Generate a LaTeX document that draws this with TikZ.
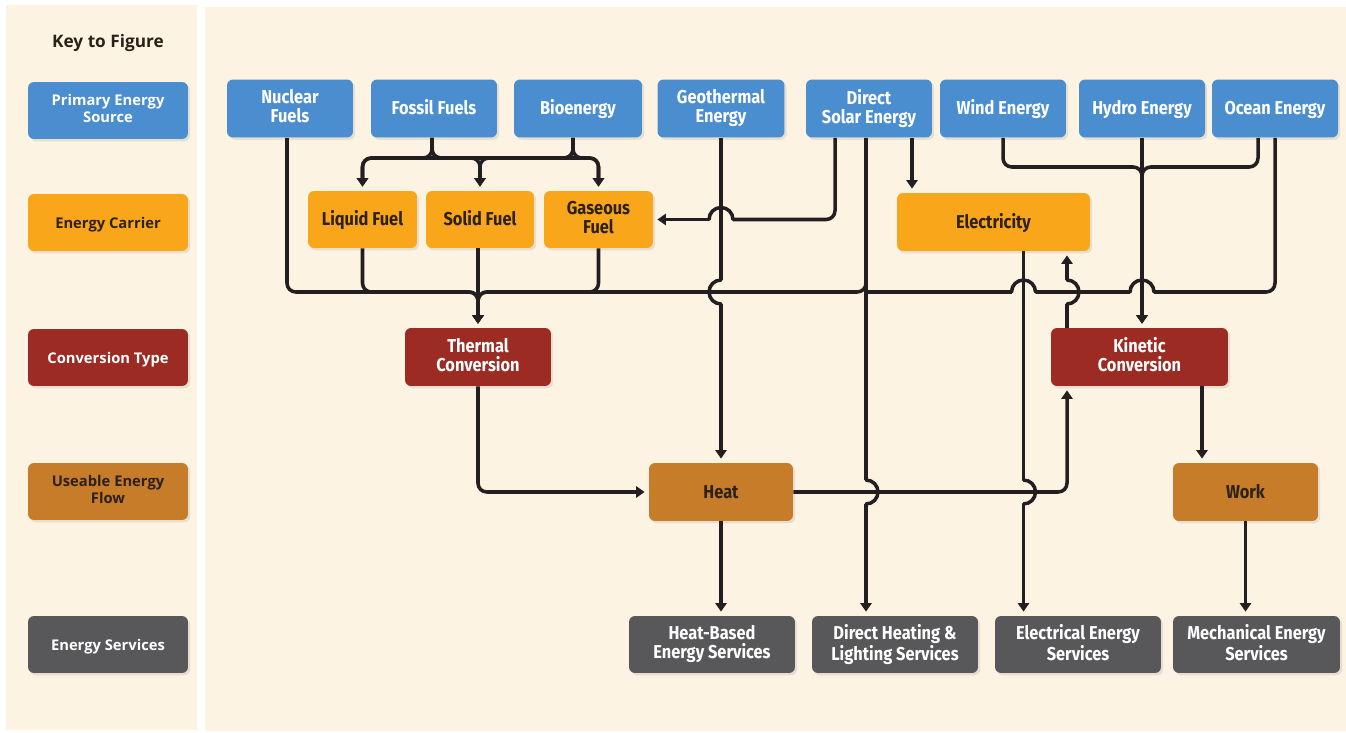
\documentclass[tikz,border=0pt]{standalone}
\usepackage{fontspec}
\setmainfont{Fira Sans}
\newfontfamily\condf[FakeStretch=0.88]{Fira Sans}
\newfontfamily\keyf{Open Sans}
\usetikzlibrary{calc,arrows.meta,shadows}
\definecolor{bg}{HTML}{FDF3E3}
\definecolor{cblue}{HTML}{4A8ECF}
\definecolor{corange}{HTML}{FAA61A}
\definecolor{cred}{HTML}{9C2B23}
\definecolor{cbrown}{HTML}{C77C2A}
\definecolor{cgray}{HTML}{58585A}
\definecolor{ink}{HTML}{231F20}
\definecolor{dtext}{HTML}{2B2118}
\newcommand\topstrut{\rule{0pt}{9.8pt}}
\newcommand\botstrut{\rule[-2.5pt]{0pt}{2.5pt}}
\newcommand\ktopstrut{\rule{0pt}{8.6pt}}
\newcommand\kbotstrut{\rule[-2.5pt]{0pt}{2.5pt}}
\tikzset{
  box/.style={rectangle, rounded corners=3.4pt, inner sep=0pt, align=center,
    font=\condf\bfseries\fontsize{10.6}{10.9}\selectfont,
    execute at begin node=\topstrut, execute at end node=\botstrut,
    drop shadow={opacity=0.18, shadow xshift=1.2pt, shadow yshift=-1.3pt}},
  bw/.style={minimum width=#1},
  srcbox/.style={box, fill=cblue, text=white, minimum height=1.16cm},
  carbox/.style={box, fill=corange, text=dtext, minimum height=1.14cm},
  convbox/.style={box, fill=cred, text=white, minimum height=1.16cm},
  usebox/.style={box, fill=cbrown, text=dtext, minimum height=1.16cm},
  servbox/.style={box, fill=cgray, text=white, minimum height=1.14cm},
  keyb/.style={box, minimum width=3.2cm, minimum height=1.14cm,
    font=\keyf\bfseries\fontsize{8.4}{9.6}\selectfont,
    execute at begin node=\ktopstrut, execute at end node=\kbotstrut},
  flow/.style={draw=ink, line width=2pt, rounded corners=5pt},
  arr/.style={flow, -{Triangle[length=4.8pt,width=6.3pt]}, shorten >=2.3pt},
  hop/.style={draw=ink, line width=2pt, line cap=round},
}
\def\hr{6.83pt}
\begin{document}
\begin{tikzpicture}[x=0.02cm,y=-0.02cm]
\useasboundingbox (0,0) rectangle (1346,733);
\fill[white] (0,0) rectangle (1346,733);
\fill[bg] (6,5) rectangle (197,730);
\fill[bg] (205,7) rectangle (1346,731);

% key
\node[font=\keyf\bfseries\fontsize{9.8}{11}\selectfont, text=dtext] (ktitle) at (108,43) {Key to Figure};
\node[keyb, fill=cblue, text=white] (k1) at (108,110.5) {Primary Energy\\Source};
\node[keyb, fill=corange, text=dtext] (k2) at (108,222.5) {Energy Carrier};
\node[keyb, fill=cred, text=white] (k3) at (108,357.5) {Conversion Type};
\node[keyb, fill=cbrown, text=dtext] (k4) at (108,491.5) {Useable Energy\\Flow};
\node[keyb, fill=cgray, text=white] (k5) at (108,644.5) {Energy Services};

% primary sources
\node[srcbox, bw=2.52cm] (nuc) at (290,108.5) {Nuclear\\Fuels};
\node[srcbox, bw=2.52cm] (fos) at (434,108.5) {Fossil Fuels};
\node[srcbox, bw=2.56cm] (bio) at (578,108.5) {Bioenergy};
\node[srcbox, bw=2.54cm] (geo) at (721,108.5) {Geothermal\\Energy};
\node[srcbox, bw=2.52cm] (sol) at (869,108.5) {Direct\\Solar Energy};
\node[srcbox, bw=2.52cm] (wind) at (1003,108.5) {Wind Energy};
\node[srcbox, bw=2.52cm] (hydro) at (1142,108.5) {Hydro Energy};
\node[srcbox, bw=2.52cm] (ocean) at (1275,108.5) {Ocean Energy};

% carriers
\node[carbox, bw=2.18cm] (liq) at (362.5,219.5) {Liquid Fuel};
\node[carbox, bw=2.16cm] (solf) at (480,219.5) {Solid Fuel};
\node[carbox, bw=2.18cm] (gas) at (598.5,219.5) {Gaseous\\Fuel};
\node[carbox, bw=3.86cm, minimum height=1.16cm] (elec) at (993.5,222) {Electricity};

% conversion
\node[convbox, bw=2.92cm] (therm) at (478,357) {Thermal\\Conversion};
\node[convbox, bw=3.54cm] (kin) at (1139.5,357) {Kinetic\\Conversion};

% useable
\node[usebox, bw=2.88cm] (heat) at (721,492) {Heat};
\node[usebox, bw=2.90cm] (work) at (1245.5,492) {Work};

% services
\node[servbox, bw=3.32cm] (hbs) at (712,644.5) {Heat-Based\\Energy Services};
\node[servbox, bw=3.32cm] (dhl) at (895,644.5) {Direct Heating \&\\Lighting Services};
\node[servbox, bw=3.32cm] (ees) at (1078,644.5) {Electrical Energy\\Services};
\node[servbox, bw=3.34cm] (mes) at (1256.5,644.5) {Mechanical Energy\\Services};

% helper coordinates
\coordinate (tb) at (0,158);
\coordinate (wb) at (0,167);
\coordinate (bus) at (0,292);
\coordinate (fosS) at ($(fos.south)+(-2,0)$);
\coordinate (bioS) at ($(bio.south)+(-5,0)$);
\coordinate (nucS) at ($(nuc.south)+(-3,0)$);
\coordinate (solL) at ($(sol.south)+(-34,0)$);
\coordinate (solM) at ($(sol.south)+(-3,0)$);
\coordinate (solR) at ($(sol.south)+(43,0)$);
\coordinate (ocW) at ($(ocean.south)+(-17,0)$);
\coordinate (elD) at ($(elec.south)+(30,0)$);
\coordinate (kinU) at ($(kin.north)+(-72.5,0)$);
\coordinate (kinW) at ($(kin.south)+(62.5,0)$);

% fossil / bio -> carriers
\foreach \s in {fosS,bioS}{
  \foreach \t in {liq,solf,gas}{
    \draw[arr] (\s) -- (\s |- tb) -| (\t.north);
  }
}

% bus -> thermal conversion
\draw[arr] (nucS) -- (nucS |- bus) -| (therm.north);
\draw[arr] (liq.south) -- (liq.south |- bus) -| (therm.north);
\draw[arr] (gas.south) -- (gas.south |- bus) -| (therm.north);
\draw[arr] (solf.south -| therm.north) -- (therm.north);
\draw[arr] (solM) -- (solM |- bus) -| (therm.north);
\draw[flow] (ocean.south) -- (ocean.south |- bus) -- ($(hydro.south |- bus)+(12,0)$);
\draw[hop] ($(hydro.south |- bus)+(12,0)$) arc[start angle=0,end angle=180,radius=\hr];
\draw[flow] ($(hydro.south |- bus)+(-12,0)$) -- ($(elD |- bus)+(12,0)$);
\draw[hop] ($(elD |- bus)+(12,0)$) arc[start angle=0,end angle=180,radius=\hr];
\draw[flow] ($(elD |- bus)+(-12,0)$) -- (solM |- bus);

% geothermal -> heat
\draw[flow] (geo.south) -- ($(geo.south |- bus)+(0,-12)$);
\draw[hop] ($(geo.south |- bus)+(0,-12)$) arc[start angle=90,end angle=270,radius=\hr];
\draw[arr] ($(geo.south |- bus)+(0,12)$) -- (heat.north);

% direct solar -> gaseous fuel
\draw[flow] (solL) -- (solL |- gas.east) -- ($(geo.south |- gas.east)+(12,0)$);
\draw[hop] ($(geo.south |- gas.east)+(12,0)$) arc[start angle=0,end angle=180,radius=\hr];
\draw[arr] ($(geo.south |- gas.east)+(-12,0)$) -- (gas.east);

% direct solar -> direct heating & lighting
\draw[flow] (solM) -- ($(solM |- heat.east)+(0,-12)$);
\draw[hop] ($(solM |- heat.east)+(0,-12)$) arc[start angle=90,end angle=-90,radius=\hr];
\draw[arr] ($(solM |- heat.east)+(0,12)$) -- (solM |- dhl.north);

% direct solar -> electricity
\draw[arr] (solR) -- (solR |- elec.north);

% wind / ocean / hydro -> kinetic
\draw[arr] (wind.south) -- (wind.south |- wb) -| (hydro.south |- kin.north);
\draw[arr] (ocW) -- (ocW |- wb) -| (hydro.south |- kin.north);
\draw[arr] (hydro.south) -- (hydro.south |- kin.north);

% kinetic -> electricity
\draw[flow] (kinU) -- ($(kinU |- bus)+(0,12)$);
\draw[hop] ($(kinU |- bus)+(0,12)$) arc[start angle=-90,end angle=90,radius=\hr];
\draw[arr] ($(kinU |- bus)+(0,-12)$) -- (kinU |- elec.south);

% electricity -> electrical energy services
\draw[flow] (elD) -- ($(elD |- heat.east)+(0,-12)$);
\draw[hop] ($(elD |- heat.east)+(0,-12)$) arc[start angle=90,end angle=-90,radius=\hr];
\draw[arr] ($(elD |- heat.east)+(0,12)$) -- (elD |- ees.north);

% heat -> kinetic
\draw[arr] (heat.east) -| (kinU |- kin.south);
% thermal -> heat
\draw[arr] (therm.south) |- (heat.west);
% heat -> heat-based services
\draw[arr] (heat.south) -- (heat.south |- hbs.north);
% kinetic -> work
\draw[arr] (kinW) -- (kinW |- work.north);
% work -> mechanical
\draw[arr] (work.south) -- (work.south |- mes.north);
\end{tikzpicture}
\end{document}
